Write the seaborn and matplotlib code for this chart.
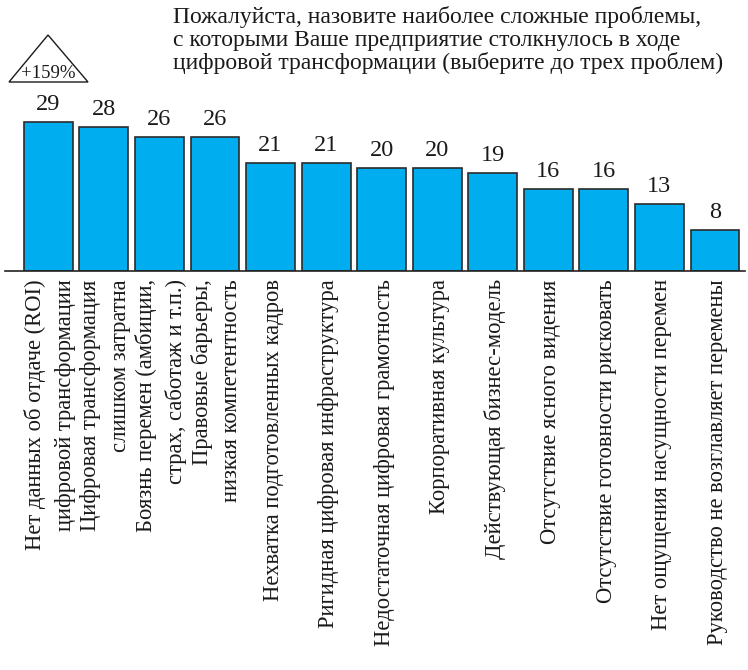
import matplotlib
matplotlib.use("Agg")
import matplotlib.pyplot as plt
from matplotlib.patches import Polygon
import seaborn as sns
import pandas as pd

problems = [
    "Нет данных об отдаче (ROI)\nцифровой трансформации",
    "Цифровая трансформация\nслишком затратна",
    "Боязнь перемен (амбиции,\nстрах, саботаж и т.п.)",
    "Правовые барьеры,\nнизкая компетентность",
    "Нехватка подготовленных кадров",
    "Ригидная цифровая инфраструктура",
    "Недостаточная цифровая грамотность",
    "Корпоративная культура",
    "Действующая бизнес-модель",
    "Отсутствие ясного видения",
    "Отсутствие готовности рисковать",
    "Нет ощущения насущности перемен",
    "Руководство не возглавляет перемены",
]
counts = [29, 28, 26, 26, 21, 21, 20, 20, 19, 16, 16, 13, 8]
title_lines = [
    "Пожалуйста, назовите наиболее сложные проблемы,",
    "с которыми Ваше предприятие столкнулось в ходе",
    "цифровой трансформации (выберите до трех проблем)",
]
growth_label = "+159%"

sns.set_theme(style="white")
plt.rcParams["font.family"] = ["Liberation Serif", "DejaVu Serif"]

W, H = 748, 670
fig = plt.figure(figsize=(W / 100, H / 100), dpi=100)
ax = fig.add_axes([5 / W, (H - 271) / H, 740 / W, 30 * 5.14 / H])

df = pd.DataFrame({"problem": problems, "count": counts})
sns.barplot(data=df, x="problem", y="count", color="#00AEEF", saturation=1,
            width=0.88, edgecolor="#2b2b2b", linewidth=1.2, ax=ax)

ax.set_xlim(-0.78, 12.54)
ax.set_ylim(0, 30)
ax.set_xlabel("")
ax.set_ylabel("")
ax.set_yticks([])
for side in ("top", "left", "right"):
    ax.spines[side].set_visible(False)
ax.spines["bottom"].set_color("#222222")
ax.spines["bottom"].set_linewidth(1.2)

# Category labels: vertical, every line ending just under the axis line
ax.set_xticks(range(len(problems)))
ax.set_xticklabels([])
ax.tick_params(axis="x", length=0)
line_gap_pt = 21.5
for pos, label in enumerate(problems):
    lines = label.split("\n")
    n = len(lines)
    for i, line in enumerate(lines):
        dx = (i - (n - 1) / 2) * line_gap_pt - (0.5 if n > 1 else 0)
        ax.annotate(line, xy=(pos, 0), xycoords=("data", "axes fraction"),
                    xytext=(dx, -6), textcoords="offset points",
                    rotation=90, rotation_mode="anchor",
                    ha="right", va="center_baseline",
                    fontsize=16.3, color="#1a1a1a")

ax.bar_label(ax.containers[0], labels=[str(v) for v in counts],
             padding=5, fontsize=17.5, color="#1a1a1a")

fig.text(173 / W, 1 - 6 / H, "\n".join(title_lines), ha="left", va="top",
         fontsize=17, color="#1a1a1a", linespacing=1.1)

tri = Polygon([(9 / W, 1 - 82 / H), (48 / W, 1 - 35 / H), (88 / W, 1 - 82 / H)],
              closed=True, fill=False, edgecolor="#1a1a1a", linewidth=1.0,
              transform=fig.transFigure)
fig.patches.append(tri)
fig.text(48 / W, 1 - 73 / H, growth_label, ha="center", va="center",
         fontsize=13.5, color="#1a1a1a")

fig.savefig("out.png", dpi=100)
